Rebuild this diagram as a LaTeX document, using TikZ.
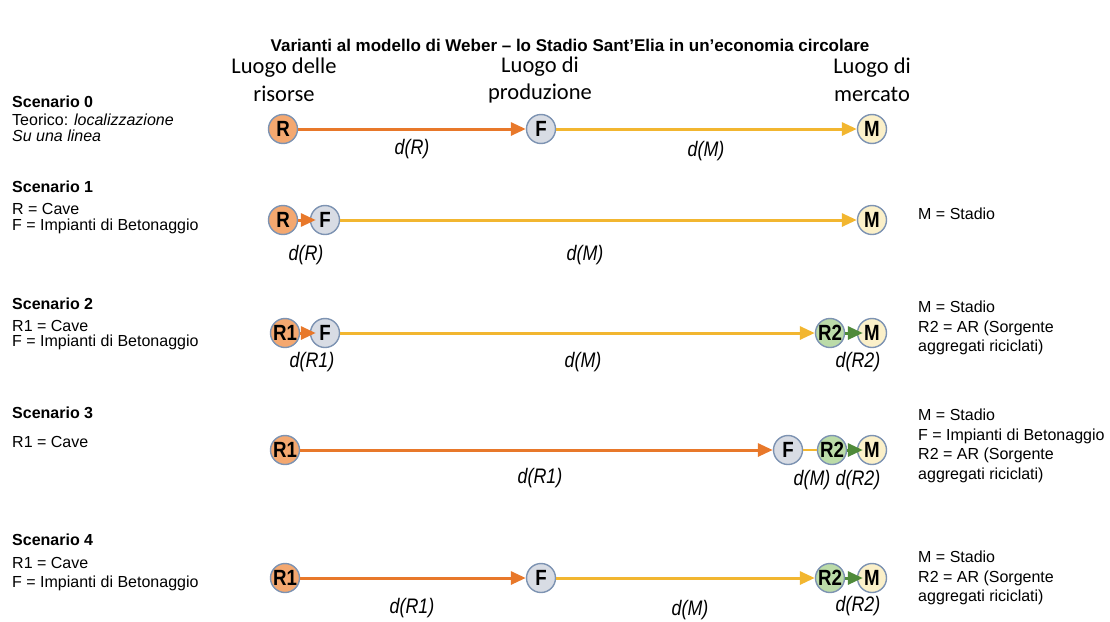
\documentclass[tikz,border=0pt]{standalone}
\usepackage{fontspec}
\setmainfont{Liberation Sans}
\newfontfamily\headfont{Carlito}
\newfontfamily\narrowfont[FakeStretch=0.85]{Liberation Sans}
\usetikzlibrary{arrows.meta}

\definecolor{orangeline}{HTML}{E8782A}
\definecolor{yellowline}{HTML}{F2B630}
\definecolor{greenline}{HTML}{4F8A3A}
\definecolor{locborder}{HTML}{7D93B2}
\definecolor{resfill}{HTML}{F4A870}
\definecolor{fabfill}{HTML}{D8DCE4}
\definecolor{mktfill}{HTML}{FBF0C9}
\definecolor{recfill}{HTML}{BBDBA8}

\begin{document}
\begin{tikzpicture}[x=1pt, y=-1pt, >={Triangle[length=15pt,width=13pt]},
  loc/.style={circle, draw=locborder, line width=1.4pt, minimum size=29pt,
    inner sep=0pt, font=\narrowfont\bfseries\fontsize{22}{22}\selectfont},
  res/.style={loc, fill=resfill},
  fab/.style={loc, fill=fabfill},
  mkt/.style={loc, fill=mktfill},
  rec/.style={loc, fill=recfill},
  toF/.style={->, draw=orangeline, line width=3pt},
  toM/.style={->, draw=yellowline, line width=3pt},
  toS/.style={->, draw=greenline, line width=3pt, shorten >=-6pt},
  dist/.style={font=\narrowfont\itshape\fontsize{21}{21}\selectfont},
  head/.style={align=center, inner sep=0pt, font=\headfont\fontsize{22.5}{28}\selectfont},
  info/.style={anchor=north west, align=left, inner sep=0pt,
    font=\fontsize{16}{19.5}\selectfont}]

\useasboundingbox (0,0) rectangle (1110,621);

\node[inner sep=0pt, font=\bfseries\fontsize{17}{20}\selectfont] (title) at (570,45)
  {Varianti al modello di Weber -- lo Stadio Sant'Elia in un'economia circolare};

\node[head] (hR) at (284,80) {Luogo delle\\risorse};
\node[head] (hF) at (540,80) {Luogo di\\produzione};
\node[head] (hM) at (872,80) {Luogo di\\mercato};

%------------------ SCENARIO 0 ------------------%
\node[info] (t0) at (12,96) {\textbf{Scenario 0}\\[-2pt]
  Teorico: \textit{localizzazione}\\[-3pt]
  \textit{Su una linea}};

\node[res] (S0R) at (283,129) {R};
\node[fab] (S0F) at (541,129) {F};
\node[mkt] (S0M) at (872,129) {M};
\draw[toF] (S0R) -- (S0F);
\draw[toM] (S0F) -- (S0M);
\node[dist] (d0R) at (412,149) {d(R)};
\node[dist] (d0M) at (706,151) {d(M)};

%------------------ SCENARIO 1 ------------------%
\node[info] (t1) at (12,181) {\textbf{Scenario 1}\\[2pt]
  R = Cave\\[-3pt]
  F = Impianti di Betonaggio};

\node[res] (S1R) at (283,220) {R};
\node[fab] (S1F) at (325,220) {F};
\node[mkt] (S1M) at (872,220) {M};
\draw[toF, shorten >=-6pt] (S1R) -- (S1F);
\draw[toM] (S1F) -- (S1M);
\node[dist] (d1R) at (306,255) {d(R)};
\node[dist] (d1M) at (585,255) {d(M)};
\node[info] (m1) at (918,208) {M = Stadio};

%------------------ SCENARIO 2 ------------------%
\node[info] (t2) at (12,298) {\textbf{Scenario 2}\\[2pt]
  R1 = Cave\\[-4pt]
  F = Impianti di Betonaggio};

\node[res] (S2R) at (285,333) {R1};
\node[fab] (S2F) at (325,333) {F};
\node[rec] (S2A) at (830,333) {R2};
\node[mkt] (S2M) at (872,333) {M};
\draw[toF, shorten >=-6pt] (S2R) -- (S2F);
\draw[toM] (S2F) -- (S2A);
\draw[toS] (S2A) -- (S2M);
\node[dist] (d2R) at (312,362) {d(R1)};
\node[dist] (d2M) at (583,362) {d(M)};
\node[dist] (d2A) at (858,362) {d(R2)};
\node[info] (m2) at (918,301) {M = Stadio\\
  R2 = AR (Sorgente\\
  aggregati riciclati)};

%------------------ SCENARIO 3 ------------------%
\node[info] (t3) at (12,407) {\textbf{Scenario 3}\\[9pt]
  R1 = Cave};

\node[res] (S3R) at (285,450) {R1};
\node[fab] (S3F) at (788,450) {F};
\node[rec] (S3A) at (832,450) {R2};
\node[mkt] (S3M) at (872,450) {M};
\draw[toF] (S3R) -- (S3F);
\draw[draw=yellowline, line width=2pt] (S3F) -- (S3A);
\draw[toS] (S3A) -- (S3M);
\node[dist] (d3R) at (540,478) {d(R1)};
\node[dist] (d3M) at (812,480) {d(M)};
\node[dist] (d3A) at (858,480) {d(R2)};
\node[info] (m3) at (918,409) {M = Stadio\\
  F = Impianti di Betonaggio\\
  R2 = AR (Sorgente\\
  aggregati riciclati)};

%------------------ SCENARIO 4 ------------------%
\node[info] (t4) at (12,534) {\textbf{Scenario 4}\\[3pt]
  R1 = Cave\\[0pt]
  F = Impianti di Betonaggio};

\node[res] (S4R) at (285,578) {R1};
\node[fab] (S4F) at (541,578) {F};
\node[rec] (S4A) at (830,578) {R2};
\node[mkt] (S4M) at (872,578) {M};
\draw[toF] (S4R) -- (S4F);
\draw[toM] (S4F) -- (S4A);
\draw[toS] (S4A) -- (S4M);
\node[dist] (d4R) at (412,608) {d(R1)};
\node[dist] (d4M) at (690,610) {d(M)};
\node[dist] (d4A) at (858,606) {d(R2)};
\node[info] (m4) at (918,551) {M = Stadio\\
  R2 = AR (Sorgente\\
  aggregati riciclati)};

\end{tikzpicture}
\end{document}
